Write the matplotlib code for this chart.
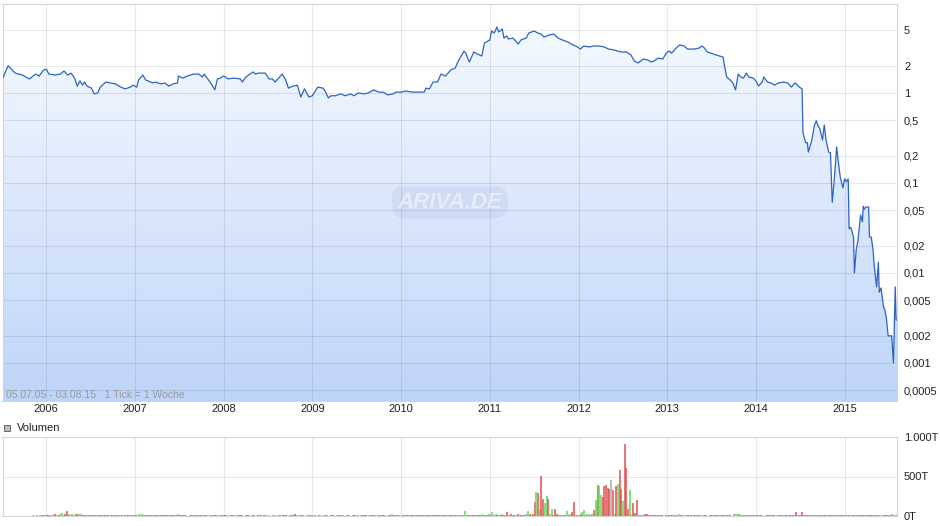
import numpy as np
import matplotlib
matplotlib.use("Agg")
import matplotlib.pyplot as plt
from matplotlib.colors import LinearSegmentedColormap
from matplotlib.patches import Rectangle

plt.rcParams['font.family'] = ['Liberation Sans', 'DejaVu Sans']

# ---------------- data ----------------
start_year = 2005.507   # 05.07.05
end_year = 2015.59      # 03.08.15

price_t = [
    2005.51, 2005.57, 2005.65, 2005.73, 2005.81, 2005.88, 2005.92, 2005.97,
    2006.00, 2006.03, 2006.10, 2006.16, 2006.20, 2006.24, 2006.28, 2006.32,
    2006.35, 2006.38, 2006.41, 2006.43, 2006.46, 2006.51, 2006.54, 2006.58,
    2006.61, 2006.67, 2006.72, 2006.78, 2006.84, 2006.89, 2006.95, 2006.98,
    2007.02, 2007.04, 2007.09, 2007.12, 2007.15, 2007.20, 2007.23, 2007.29,
    2007.34, 2007.38, 2007.43, 2007.48, 2007.49, 2007.54, 2007.59, 2007.66,
    2007.72, 2007.76, 2007.78, 2007.83, 2007.87, 2007.90, 2007.93, 2007.96,
    2008.00, 2008.02, 2008.05, 2008.11, 2008.19, 2008.21, 2008.25, 2008.33,
    2008.36, 2008.39, 2008.47, 2008.51, 2008.55, 2008.58, 2008.62, 2008.66,
    2008.70, 2008.73, 2008.78, 2008.83, 2008.87, 2008.91, 2008.96, 2009.00,
    2009.06, 2009.12, 2009.15, 2009.18, 2009.21, 2009.26, 2009.32, 2009.37,
    2009.43, 2009.47, 2009.52, 2009.58, 2009.63, 2009.69, 2009.75, 2009.80,
    2009.85, 2009.91, 2009.94, 2010.00, 2010.05, 2010.13, 2010.20, 2010.26,
    2010.28, 2010.32, 2010.36, 2010.41, 2010.45, 2010.50, 2010.56, 2010.61,
    2010.64, 2010.67, 2010.71, 2010.73, 2010.75, 2010.77, 2010.82, 2010.86,
    2010.91, 2010.94, 2010.98, 2011.00, 2011.02, 2011.05, 2011.08, 2011.10,
    2011.14, 2011.16, 2011.19, 2011.21, 2011.26, 2011.32, 2011.35, 2011.41,
    2011.44, 2011.50, 2011.54, 2011.58, 2011.61, 2011.67, 2011.72, 2011.77,
    2011.82, 2011.88, 2011.94, 2011.99, 2012.02, 2012.06, 2012.12, 2012.17,
    2012.23, 2012.29, 2012.34, 2012.40, 2012.48, 2012.54, 2012.59, 2012.63,
    2012.67, 2012.73, 2012.78, 2012.82, 2012.85, 2012.90, 2012.95, 2012.99,
    2013.02, 2013.05, 2013.10, 2013.14, 2013.19, 2013.23, 2013.30, 2013.36,
    2013.39, 2013.42, 2013.45, 2013.49, 2013.55, 2013.63, 2013.64, 2013.67,
    2013.71, 2013.74, 2013.77, 2013.80, 2013.83, 2013.86, 2013.89, 2013.92,
    2013.97, 2014.00, 2014.03, 2014.07, 2014.09, 2014.13, 2014.17, 2014.21,
    2014.25, 2014.31, 2014.36, 2014.40, 2014.44, 2014.49, 2014.52, 2014.53,
    2014.56, 2014.58, 2014.59, 2014.63, 2014.66, 2014.68, 2014.70, 2014.72,
    2014.75, 2014.77, 2014.79, 2014.82, 2014.84, 2014.86, 2014.88, 2014.91,
    2014.93, 2014.95, 2014.98, 2015.00, 2015.02, 2015.04, 2015.05, 2015.07,
    2015.10, 2015.11, 2015.13, 2015.15, 2015.18, 2015.20, 2015.21, 2015.22,
    2015.24, 2015.27, 2015.28, 2015.30, 2015.32, 2015.33, 2015.36, 2015.38,
    2015.39, 2015.41, 2015.44, 2015.45, 2015.47, 2015.49, 2015.53, 2015.55,
    2015.57, 2015.58, 2015.59,
]
price = [
    1.46, 2.00, 1.66, 1.58, 1.43, 1.62, 1.54, 1.80,
    1.84, 1.62, 1.58, 1.62, 1.75, 1.58, 1.66, 1.46,
    1.19, 1.36, 1.22, 1.32, 1.19, 1.13, 0.975, 1.00,
    1.16, 1.32, 1.29, 1.26, 1.16, 1.11, 1.16, 1.22,
    1.16, 1.39, 1.58, 1.39, 1.36, 1.29, 1.32, 1.26,
    1.29, 1.19, 1.26, 1.29, 1.54, 1.46, 1.54, 1.62,
    1.62, 1.50, 1.62, 1.39, 1.22, 1.08, 1.43, 1.46,
    1.54, 1.50, 1.43, 1.46, 1.43, 1.32, 1.50, 1.71,
    1.62, 1.66, 1.66, 1.43, 1.43, 1.32, 1.46, 1.62,
    1.39, 1.13, 1.19, 1.22, 0.90, 1.11, 0.90, 0.93,
    1.16, 1.13, 1.02, 0.88, 0.93, 0.93, 0.975, 0.93,
    0.975, 0.93, 1.00, 0.975, 1.00, 1.08, 1.02, 1.02,
    0.95, 0.975, 1.02, 1.02, 1.05, 1.02, 1.02, 1.02,
    1.13, 1.11, 1.32, 1.32, 1.62, 1.54, 1.80, 1.89,
    2.21, 2.50, 2.92, 2.77, 2.44, 2.21, 2.85, 2.70,
    2.57, 3.59, 3.77, 3.87, 4.87, 4.63, 5.40, 4.75,
    5.13, 4.07, 4.29, 3.97, 4.07, 3.49, 3.87, 4.07,
    4.63, 4.87, 4.63, 4.51, 4.18, 4.40, 4.51, 4.07,
    3.87, 3.68, 3.41, 3.24, 3.07, 3.32, 3.24, 3.32,
    3.32, 3.24, 3.07, 3.00, 2.85, 2.85, 2.64, 2.26,
    2.15, 2.38, 2.32, 2.21, 2.26, 2.44, 2.38, 2.77,
    2.92, 2.77, 3.15, 3.41, 3.32, 3.07, 3.07, 3.15,
    3.32, 3.15, 2.85, 2.77, 2.64, 2.50, 2.15, 1.50,
    1.39, 1.29, 1.08, 1.62, 1.50, 1.46, 1.66, 1.50,
    1.46, 1.36, 1.19, 1.32, 1.50, 1.32, 1.29, 1.22,
    1.29, 1.32, 1.29, 1.16, 1.29, 1.16, 1.11, 0.36,
    0.28, 0.28, 0.22, 0.30, 0.44, 0.49, 0.43, 0.40,
    0.30, 0.44, 0.30, 0.22, 0.216, 0.061, 0.10, 0.25,
    0.167, 0.117, 0.088, 0.111, 0.103, 0.111, 0.031, 0.032,
    0.025, 0.010, 0.018, 0.023, 0.044, 0.037, 0.055, 0.051,
    0.054, 0.054, 0.025, 0.025, 0.018, 0.013, 0.007, 0.0131,
    0.0061, 0.0068, 0.0041, 0.0040, 0.0032, 0.0020, 0.0020, 0.0010,
    0.0070, 0.0030, 0.0030,
]

years = list(range(2006, 2016))
price_ticks = [5, 2, 1, 0.5, 0.2, 0.1, 0.05, 0.02, 0.01, 0.005, 0.002, 0.001, 0.0005]
price_tick_labels = ["5", "2", "1", "0,5", "0,2", "0,1", "0,05", "0,02", "0,01",
                     "0,005", "0,002", "0,001", "0,0005"]

# weekly volume (thousands of shares), one value per week from 05.07.05
vol_T = [
    0, 0, 2, 0, 1, 0, 3, 0, 0, 2, 1, 0, 2, 0, 1, 3, 0, 2, 8, 6,
    10, 5, 9, 12, 7, 15, 10, 8, 18, 12, 9, 20, 14, 10, 25, 40, 18, 22, 67, 20,
    15, 30, 12, 25, 28, 22, 30, 18, 15, 12, 10, 14, 9, 12, 8, 10, 15, 9, 12, 7,
    10, 8, 12, 6, 9, 11, 7, 10, 8, 12, 9, 6, 10, 14, 8, 9, 7, 12, 10, 15,
    30, 18, 22, 15, 10, 12, 8, 14, 9, 11, 7, 10, 12, 8, 9, 11, 15, 8, 15, 12,
    10, 8, 12, 25, 9, 7, 11, 8, 10, 6, 9, 12, 8, 7, 10, 16, 9, 8, 11, 7,
    9, 6, 10, 8, 7, 11, 9, 6, 8, 10, 7, 16, 9, 6, 8, 7, 10, 6, 9, 8,
    7, 9, 6, 8, 10, 7, 5, 9, 8, 6, 7, 10, 8, 6, 9, 7, 5, 8, 6, 9,
    8, 6, 7, 9, 5, 8, 10, 7, 6, 9, 8, 7, 25, 9, 6, 8, 7, 10, 6, 8,
    15, 7, 9, 6, 8, 5, 7, 9, 6, 8, 7, 10, 6, 8, 9, 7, 6, 8, 10, 7,
    9, 6, 8, 7, 10, 6, 9, 8, 15, 7, 6, 9, 8, 10, 7, 6, 9, 8, 7, 10,
    6, 8, 9, 7, 10, 8, 6, 9, 12, 25, 8, 7, 10, 9, 6, 12, 8, 10, 7, 9,
    10, 12, 8, 9, 11, 7, 10, 13, 9, 8, 11, 10, 18, 9, 12, 8, 10, 14, 9, 11,
    12, 9, 14, 10, 11, 15, 9, 12, 18, 10, 13, 9, 65, 12, 15, 10, 14, 18, 11, 13,
    16, 12, 20, 14, 18, 11, 22, 15, 50, 14, 25, 12, 18, 16, 20, 14, 18, 50, 14, 20,
    16, 12, 15, 20, 18, 14, 12, 16, 20, 65, 22, 18, 25, 175, 300, 290, 90, 505, 215, 165,
    250, 215, 20, 90, 12, 90, 20, 15, 10, 12, 15, 14, 60, 12, 20, 50, 175, 18, 12, 15,
    20, 45, 75, 15, 22, 25, 15, 20, 75, 200, 390, 380, 265, 240, 380, 390, 355, 345, 455, 330,
    20, 380, 405, 580, 340, 190, 910, 610, 90, 330, 30, 165, 35, 200, 12, 15, 10, 15, 20, 30,
    15, 12, 8, 10, 9, 7, 12, 8, 10, 6, 9, 8, 7, 15, 9, 8, 10, 7, 20, 9,
    8, 6, 9, 7, 10, 8, 6, 9, 7, 8, 10, 6, 9, 7, 8, 6, 9, 10, 7, 15,
    12, 9, 8, 10, 7, 9, 11, 8, 10, 6, 25, 28, 30, 22, 10, 8, 9, 7, 10, 8,
    15, 9, 8, 10, 7, 9, 12, 8, 6, 10, 8, 7, 9, 11, 8, 6, 9, 7, 10, 8,
    9, 7, 10, 8, 12, 9, 14, 45, 10, 12, 55, 9, 8, 14, 10, 7, 12, 9, 8, 11,
    9, 12, 8, 10, 14, 9, 7, 11, 8, 10, 9, 7, 12, 8, 10, 9, 11, 8, 7, 10,
    8, 10, 7, 9, 12, 8, 10, 9, 7, 11, 8, 10, 9, 7, 8, 10, 9, 6, 8, 7,
    9, 8, 12, 30, 10, 8, 12,
]
# week direction: g = up, r = down, n = unchanged
vol_dir = (
    "grgrgrgrgrgrgrrggrgr"
    "grggrgrrgggrgrgggrrg"
    "ggggrgggrgrgrgrgrgrg"
    "rgrgrgrgrgrgrgrgrgrg"
    "gggrgrgrgrgrgrgrgrgr"
    "rgrggrgrgrgrgrgrgrgr"
    "grgrgrgrgrgrgrgrgrgr"
    "rgrgrgrgrgrgrgrgrgrg"
    "grgrgrgrgrgrrgrgrgrg"
    "rgrgrgrgrgrgrgrgrgrg"
    "grgrgrgrggrgrgrgrgrg"
    "rgrgrgrgrnrgrgrgrgrg"
    "grgrgrgrgrgrgrgrgrgr"
    "rgrgrgrgggrggrgrgrgr"
    "grgrgrgrgggrgrgrgrgr"
    "grgrgrgrggrgrrgrgrrg"
    "grggrrrrgrgrgrgrrgrg"
    "rggrggrgrgrggrrrrrnr"
    "grgrrgrrrggrrrgrggrr"
    "rgrgrgrgrgrgrgrgrgnr"
    "grgrgrgrgrgrgrgrgrgr"
    "rgrgrgrgrgggggrgrgrg"
    "rgrgrgrgrgrgrgrgrgrg"
    "grgrgrgrgrrgrgrgrgrg"
    "rgrgrgrgrgrgrgrgrgrg"
    "grgrgrgrgrgrgrgrgrgr"
    "rgrgggr"
)
vol_ticks = [0, 500, 1000]
vol_tick_labels = ["0T", "500T", "1.000T"]

# ---------------- figure ----------------
W, H = 940, 526
fig = plt.figure(figsize=(W / 100, H / 100), dpi=100)
fig.patch.set_facecolor('white')

def fx(px):
    return px / W

def fy(py):
    return 1 - py / H

L, R = 2.5, 897.0
grid_col = (0.05, 0.12, 0.3, 0.1)
spine_col = '#d4d4d4'
label_col = '#222222'

# main price axes
ax = fig.add_axes([fx(L), fy(401), fx(R - L), (401 - 3.5) / H])
ax.set_yscale('log')
ax.set_xlim(start_year, end_year)
ax.set_ylim(3.775e-4, 9.85)
ax.set_facecolor('white')

poly = ax.fill_between(price_t, price, 1e-6, color='none', lw=0)
cmap = LinearSegmentedColormap.from_list('fill', [(0.745, 0.835, 0.972), (0.975, 0.985, 1.0)])
grad = np.linspace(0, 1, 256).reshape(-1, 1)
im = ax.imshow(grad, extent=[0, 1, 0, 1], transform=ax.transAxes, origin='lower',
               cmap=cmap, aspect='auto', zorder=1, interpolation='bilinear')
im.set_clip_path(poly.get_paths()[0], ax.transData)
ax.set_xlim(start_year, end_year)
ax.set_ylim(3.775e-4, 9.85)

for v in price_ticks:
    ax.axhline(v, color=grid_col, lw=0.75, zorder=2)
for yr in years:
    ax.axvline(yr, color=grid_col, lw=0.75, zorder=2)

ax.plot(price_t, price, color='#2c64c6', lw=0.9, zorder=4)

ax.yaxis.tick_right()
ax.set_yticks(price_ticks)
ax.set_yticklabels(price_tick_labels)
ax.yaxis.set_minor_locator(matplotlib.ticker.NullLocator())
ax.set_xticks(years)
ax.set_xticklabels([str(y) for y in years])
ax.xaxis.set_minor_locator(matplotlib.ticker.NullLocator())
ax.tick_params(axis='y', length=0, pad=5, labelsize=8, labelcolor=label_col)
ax.tick_params(axis='x', length=0, pad=2.5, labelsize=8, labelcolor=label_col)
for s in ax.spines.values():
    s.set_color(spine_col)
    s.set_linewidth(0.75)

ax.text(0.5, 0.5, "ARIVA.DE", transform=ax.transAxes, ha='center', va='center',
        fontsize=16, fontstyle='italic', fontweight='bold',
        color=(1, 1, 1, 0.5), zorder=3,
        bbox=dict(boxstyle='round,pad=0.25,rounding_size=0.6',
                  fc=(0.5, 0.6, 0.8, 0.14), ec='none'))

fig.text(fx(6), fy(395), "05.07.05 - 03.08.15   1 Tick = 1 Woche", ha='left', va='center',
         fontsize=7.5, color='#9a9a9a')

# volume axes
axv = fig.add_axes([fx(L), fy(516), fx(R - L), (516 - 437) / H])
axv.set_xlim(start_year, end_year)
axv.set_ylim(0, 1000)
for yr in years:
    axv.axvline(yr, color=grid_col, lw=0.75, zorder=1)
axv.axhline(500, color=grid_col, lw=0.75, zorder=1)

n = min(len(vol_T), len(vol_dir))
week_t = [start_year + w * 7 / 365.25 for w in range(n)]
cmap_dir = {'g': '#5ed64e', 'r': '#e0504e', 'n': '#aaaaaa'}
axv.vlines(week_t, 0, vol_T[:n], colors=[cmap_dir[c] for c in vol_dir[:n]], lw=1.1, zorder=2)

axv.yaxis.tick_right()
axv.set_yticks(vol_ticks)
axv.set_yticklabels(vol_tick_labels)
axv.set_xticks([])
axv.tick_params(axis='y', length=0, pad=5, labelsize=8, labelcolor=label_col)
for s in axv.spines.values():
    s.set_color(spine_col)
    s.set_linewidth(0.75)

# "Volumen" legend
fig.add_artist(Rectangle((fx(4), fy(431)), fx(6), 6 / H, transform=fig.transFigure,
                         fc='#bbbbbb', ec='#555555', lw=0.6))
fig.text(fx(17), fy(428), "Volumen", ha='left', va='center', fontsize=8, color=label_col)

fig.savefig('out.png', dpi=100, facecolor='white')
